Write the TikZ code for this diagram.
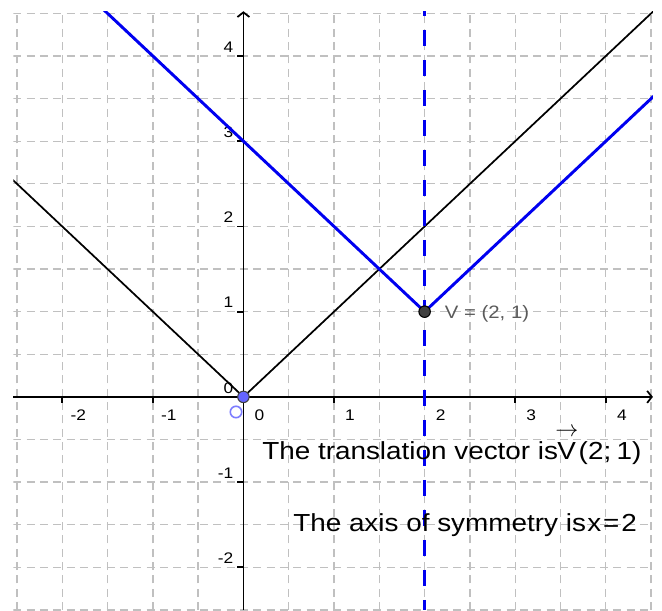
\documentclass[tikz,border=0pt]{standalone}
\usepackage{fontspec}
\setmainfont[FakeStretch=1.13]{Liberation Sans}
\usetikzlibrary{arrows.meta}
\definecolor{gridgray}{RGB}{192,192,192}
\definecolor{geoblue}{RGB}{0,0,240}
\definecolor{ptblue}{RGB}{100,100,255}
\definecolor{ringblue}{RGB}{125,125,255}
\definecolor{ptdark}{RGB}{64,64,64}
\definecolor{lblgray}{RGB}{90,90,90}
\newcommand\arrowed[1]{\leavevmode\setbox0\hbox{#1}%
  \rlap{\raisebox{\dimexpr\ht0+4pt\relax}{\makebox[\wd0]{\fontsize{16}{16}\selectfont$\rightarrow$}}}\box0}

\begin{document}
\begin{tikzpicture}[x=67.95pt,y=63.92pt,
  gridline/.style={gridgray,line width=1pt,dash pattern=on 6pt off 4pt},
  axisline/.style={black,line width=1.3pt},
  absline/.style={black,line width=1.3pt},
  bluegraph/.style={geoblue,line width=2.2pt},
  symline/.style={geoblue,line width=2.2pt,dash pattern=on 12pt off 10.5pt,dash phase=8.5pt},
  ticklabel/.style={font=\fontsize{11.5}{13}\selectfont,inner sep=0pt},
  bigtext/.style={font=\fontsize{18.5}{22}\selectfont,inner sep=0pt,anchor=base west}]
 \useasboundingbox (-2.687,-2.501) rectangle (4.620,4.657);
 \begin{scope}
 \clip (-2.54,-2.501) rectangle (4.52,4.525);
 \foreach \x in {-2.5,-2,...,4.5}{\draw[gridline] (\x,-2.501)--(\x,4.525);}
 \foreach \y in {-2.5,-2,...,4.5}{\draw[gridline] (-2.54,\y)--(4.52,\y);}
 \draw[absline] (-2.6,2.6)--(0,0)--(4.6,4.6);
 \end{scope}
 \draw[axisline,-{Straight Barb[length=3.5pt,width=9pt]}] (-2.54,0)--(4.52,0);
 \draw[axisline,-{Straight Barb[length=3.5pt,width=9pt]}] (0,-2.501)--(0,4.525);
 \foreach \x in {-2,-1,1,2,3,4}{\draw[axisline] (\x,0)--++(0,-4.5pt);}
 \foreach \y in {-2,-1,1,2,3,4}{\draw[axisline] (0,\y)--++(-4.5pt,0);}
 \foreach \x in {-2,-1,0,1,2,3,4}
   {\node[ticklabel,xshift=12pt,yshift=-13.5pt] (xl\x) at (\x,0) {\x};}
 \foreach \y in {-2,-1,0,1,2,3,4}
   {\node[ticklabel,anchor=east,xshift=-7.5pt,yshift=6.75pt] (yl\y) at (0,\y) {\y};}
 \begin{scope}
 \clip (-2.54,-2.501) rectangle (4.52,4.525);
 \draw[bluegraph] (-1.7,4.7)--(2,1)--(4.7,3.7);
 \draw[symline] (2,4.525)--(2,-2.501);
 \end{scope}
 \draw[ringblue,line width=1.2pt] (-0.082,-0.177) circle (4.3pt);
 \fill[ptblue,draw=black!75,line width=0.8pt] (0,0) circle (4.3pt);
 \fill[ptdark,draw=black,line width=0.8pt] (2,1) circle (4.3pt);
 \node[font=\fontsize{13.5}{15}\selectfont,text=lblgray,inner sep=0pt,anchor=base west,
   xshift=15pt,yshift=-5.5pt] (vlabel) at (2,1) {V = (2, 1)};
 \node[bigtext] (transl) at (0.205,-0.732)
   {The translation vector is\kern-0.5pt\arrowed{V}\kern2pt(2;\kern4pt1)};
 \node[bigtext] (symtext) at (0.547,-1.582) {The axis of symmetry is\kern1pt x\kern1.5pt=\kern1.5pt 2};
\end{tikzpicture}
\end{document}
